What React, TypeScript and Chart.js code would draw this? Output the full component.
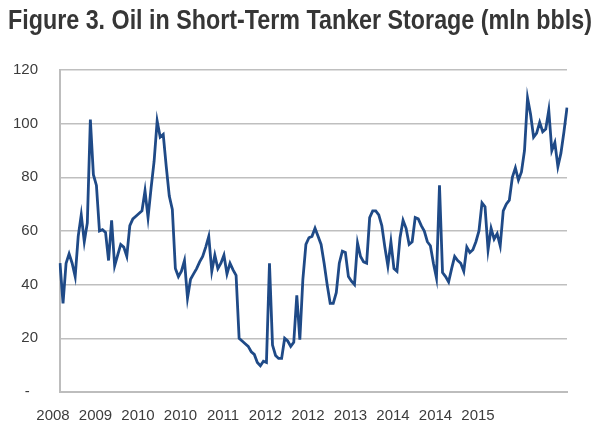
import React, { useEffect, useRef } from 'react';
import { Chart, registerables } from 'chart.js';

Chart.register(...registerables);

// Weekly oil held in short-term tanker storage (mln bbls)
const storage: number[] = [
  48, 33, 48, 51.5, 48, 43, 58, 66, 56, 63,
  101.5, 81, 77, 60, 60.5, 59.5, 49, 64, 47, 51,
  55, 54, 50.6, 62, 64.5, 65.5, 66.5, 67.5, 75, 65,
  76, 86, 101, 95, 96, 84, 73, 68, 46, 43,
  45, 49, 35, 42, 44, 46, 48.5, 50.5, 54, 58,
  45, 51, 46, 48, 51, 44, 48, 45.5, 43.5, 20,
  19, 18, 17, 15, 14, 11, 9.8, 11.5, 11, 48,
  17.5, 13.6, 12.5, 12.5, 20, 19, 17, 18.5, 36, 19.5,
  42, 55, 57.5, 58, 61, 58, 55, 48, 40, 33,
  33, 37, 48, 52.5, 52, 43, 41.3, 40, 55.5, 50.5,
  48.5, 48, 65, 67.5, 67.5, 66, 62, 54, 47, 56,
  46, 45, 57.5, 64, 61, 55, 56, 65, 64.5, 62,
  60, 56, 54.5, 48, 42.5, 77, 44.5, 43, 41, 46,
  50.5, 49, 48, 45, 54, 52, 53, 56, 60, 70.5,
  69, 53, 61, 57, 59, 54.5, 67.5, 70, 71.5, 80,
  83.5, 79, 82, 90, 109.6, 103.5, 95, 96.5, 100.5, 97,
  98, 105, 90, 93, 84, 89, 97, 106,
];

// Axis labels as printed on the reference (one every `labelEvery` observations)
const tickLabels: string[] = ['2008', '2009', '2010', '2010', '2011', '2012', '2012', '2013', '2014', '2014', '2015'];
const labelEvery = 14;

const yMin = 0;
const yMax = 120;
const yStep = 20;

const titleText = 'Figure 3. Oil in Short-Term Tanker Storage (mln bbls)';

const categories: string[] = storage.map((_, i) =>
  i % labelEvery === 0 && tickLabels[i / labelEvery] ? tickLabels[i / labelEvery] : ''
);

export default function App() {
  const ref = useRef<HTMLCanvasElement>(null);

  useEffect(() => {
    if (!ref.current) return;
    const chart = new Chart(ref.current, {
      type: 'line',
      data: {
        labels: categories,
        datasets: [
          {
            data: storage,
            borderColor: '#1f4a87',
            borderWidth: 2.8,
            pointRadius: 0,
            tension: 0,
            fill: false,
            yAxisID: 'y',
          },
        ],
      },
      options: {
        animation: false,
        responsive: false,
        devicePixelRatio: 1,
        layout: { padding: { left: 8, right: 8, top: 0, bottom: 0 } },
        plugins: {
          legend: { display: false },
          tooltip: { enabled: false },
          title: {
            display: true,
            text: titleText,
            color: '#363636',
            font: {
              family: "'Liberation Sans Narrow', 'Arial Narrow', 'Liberation Sans', Arial, sans-serif",
              size: 27.5,
              weight: 'bold',
            },
            padding: { top: 5.2, bottom: 31.8 },
          },
        },
        scales: {
          x: {
            type: 'category',
            grid: { display: false, drawTicks: false },
            border: { display: true, color: '#bdbdbd', width: 2 },
            ticks: {
              autoSkip: false,
              maxRotation: 0,
              minRotation: 0,
              padding: 15,
              labelOffset: -7,
              color: '#3c3c3c',
              font: { family: "'Liberation Sans', Arial, sans-serif", size: 15 },
              callback: (value: any) => categories[value as number],
            },
            afterFit: (s: any) => {
              s.height = 38;
            },
          },
          y: {
            min: yMin,
            max: yMax,
            ticks: {
              stepSize: yStep,
              padding: 22,
              color: '#3c3c3c',
              font: { family: "'Liberation Sans', Arial, sans-serif", size: 15 },
              callback: (v: any) => (Number(v) === 0 ? '-  ' : String(v)),
            },
            grid: { color: '#bfbfbf', lineWidth: 1.6, drawTicks: false },
            border: { display: true, color: '#bdbdbd', width: 2 },
            afterFit: (s: any) => {
              s.width = 52;
            },
          },
          yRightSpace: {
            position: 'right',
            min: 0,
            max: 1,
            grid: { display: false, drawTicks: false },
            border: { display: false },
            ticks: { display: false },
            afterFit: (s: any) => {
              s.width = 25;
            },
          },
        },
      },
    });
    return () => chart.destroy();
  }, []);

  return (
    <div style={{ position: 'fixed', left: 0, top: 0, width: 600, height: 430, background: '#ffffff' }}>
      <canvas ref={ref} width={600} height={430} style={{ display: 'block' }} />
    </div>
  );
}
